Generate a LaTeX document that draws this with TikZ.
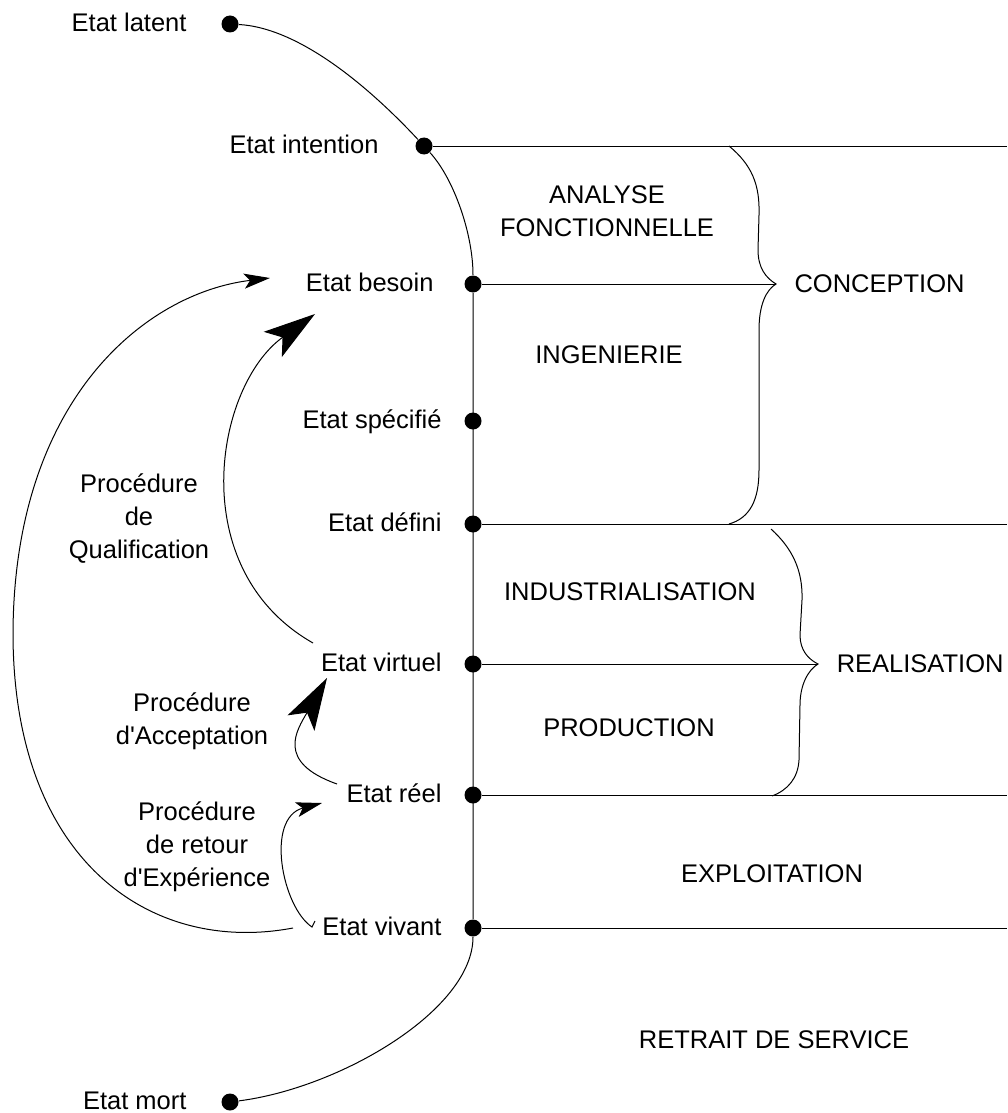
\documentclass[tikz,border=0pt]{standalone}
\usepackage{fontspec}
\setmainfont{Liberation Sans}
\usetikzlibrary{positioning,arrows.meta}
\tikzset{
    etatdot/.style={circle, fill=black, inner sep=0pt, minimum size=8.5pt},
    etat/.style={inner sep=0pt, text height=0.716em, text depth=0pt},
    phase/.style={inner sep=0pt, align=center},
    bigtip/.style={-{Stealth[length=26pt, width=15.5pt, inset=6pt]}},
    smalltip/.style={-{Stealth[length=13pt, width=7.5pt, inset=3pt]}}
}
\begin{document}
\begin{tikzpicture}[
        x=0.5pt, y=-0.5pt,
        line width=0.5pt,
        font=\fontsize{12.75}{16.5}\selectfont
    ]
    \useasboundingbox (0,0) rectangle (1007,1113);

    % --- POINTS D'ETAT ---
    \node[etatdot] (latent) at (230,24) {};
    \node[etatdot] (intention) at (424,146) {};
    \foreach \n/\y in {besoin/284, specifie/421, defini/524, virtuel/664, reel/795, vivant/928}
        \node[etatdot] (\n) at (473,\y) {};
    \node[etatdot] (mort) at (230,1102) {};

    % --- LIBELLES DES ETATS ---
    \node[etat, left=17pt of latent] (tlatent) {Etat latent};
    \node[etat, left=18pt of intention] (tintention) {Etat intention};
    \node[etat, left=15pt of besoin] (tbesoin) {Etat besoin};
    \node[etat, left=11pt of specifie] (tspecifie) {Etat spécifié};
    \node[etat, left=11pt of defini] (tdefini) {Etat défini};
    \node[etat, left=11pt of virtuel] (tvirtuel) {Etat virtuel};
    \node[etat, left=11pt of reel] (treel) {Etat réel};
    \node[etat, left=11pt of vivant] (tvivant) {Etat vivant};
    \node[etat, left=17pt of mort] (tmort) {Etat mort};

    % --- LIGNE DE VIE ---
    \draw (latent) .. controls (300,28) and (370,88) .. (intention)
          .. controls (454,179) and (473,234) .. (besoin) -- (vivant)
          .. controls (473,1010) and (340,1088) .. (mort);

    % --- LIGNES DES PHASES ---
    \coordinate (bord) at (1007,0);
    \foreach \n in {intention, defini, reel, vivant}
        \draw (\n) -- (\n -| bord);
    \coordinate (pconception) at (776,284);
    \coordinate (prealisation) at (818,664);
    \draw (besoin) -- (pconception);
    \draw (virtuel) -- (prealisation);

    % accolades
    \draw (729,146) .. controls (752,165) and (760,185) .. (759,215) -- (758,250)
          .. controls (758,268) and (766,278) .. (pconception)
          .. controls (766,290) and (759,305) .. (759,330) -- (759,470)
          .. controls (759,500) and (750,518) .. (729,524);
    \draw (771,529) .. controls (792,548) and (803,570) .. (802,600) -- (800,635)
          .. controls (800,650) and (808,659) .. (prealisation)
          .. controls (808,670) and (800,685) .. (800,705) -- (799,760)
          .. controls (798,778) and (788,790) .. (772,796);

    % --- TEXTES DES PHASES ---
    \node[phase] (analyse) at (607,211) {ANALYSE\\FONCTIONNELLE};
    \node[phase] (ingenierie) at (609,355) {INGENIERIE};
    \node[phase, anchor=west] (conception) at (794,284) {CONCEPTION};
    \node[phase] (industrialisation) at (630,592) {INDUSTRIALISATION};
    \node[phase] (production) at (629,728) {PRODUCTION};
    \node[phase, anchor=east] (realisation) at (1004,664) {REALISATION};
    \node[phase] (exploitation) at (772,874) {EXPLOITATION};
    \node[phase] (retrait) at (774,1040) {RETRAIT DE SERVICE};

    % --- PROCEDURES ---
    \node[phase] (qualification) at (139,519) {Procédure\\de\\Qualification};
    \node[phase] (acceptation) at (192,721) {Procédure\\d\textquotesingle Acceptation};
    \node[phase] (retour) at (197,847) {Procédure\\de retour\\d\textquotesingle Expérience};

    \coordinate (qa) at (313,643);
    \coordinate (qb) at (315,314);
    \draw[bigtip] (qa) .. controls (183,569) and (215,386) .. (qb);

    \coordinate (aa) at (337,784);
    \coordinate (ab) at (327,678);
    \draw[bigtip] (aa) .. controls (275,762) and (297,730) .. (ab);

    \coordinate (oa) at (293,928);
    \coordinate (om) at (13,633);
    \coordinate (ob) at (270,278);
    \draw[smalltip] (oa) .. controls (150,955) and (13,860) .. (om)
          .. controls (14,400) and (145,293) .. (ob);

    \coordinate (ra) at (315,921);
    \coordinate (rh) at (312,927);
    \coordinate (rb) at (322,803);
    \draw[smalltip] (ra) -- (rh) .. controls (282,907) and (265,818) .. (rb);

\end{tikzpicture}
\end{document}
